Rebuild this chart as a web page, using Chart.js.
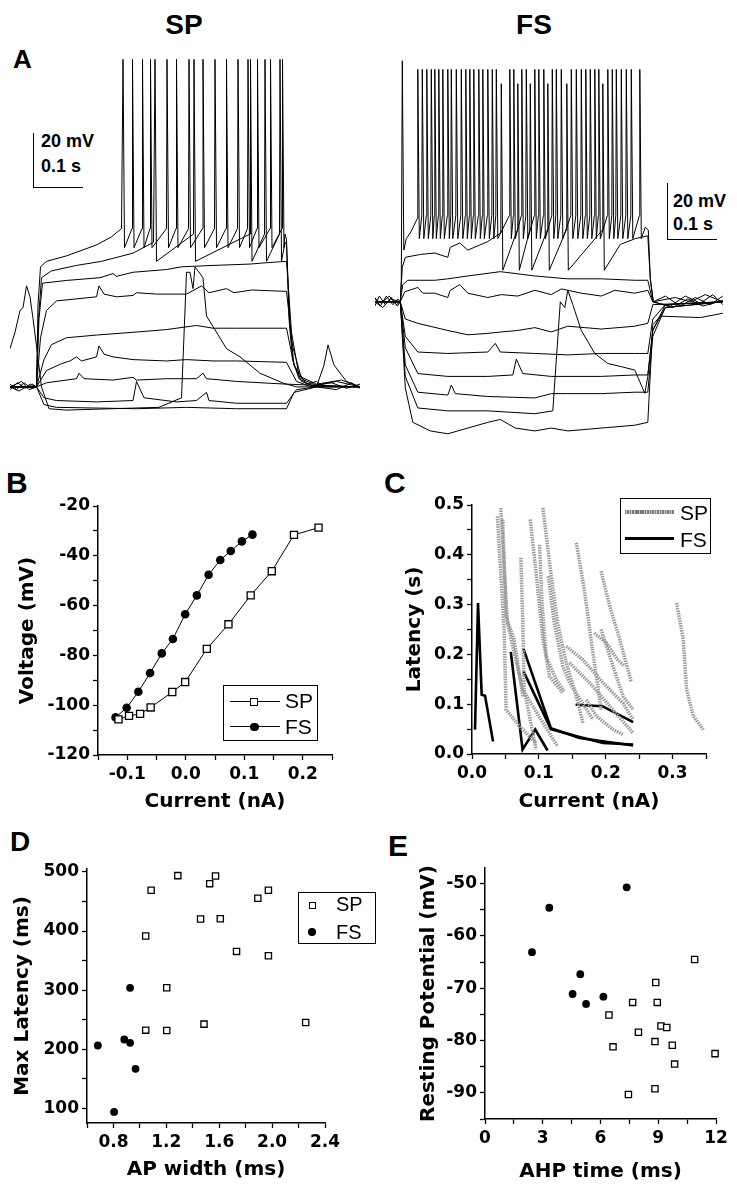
<!DOCTYPE html>
<html>
<head>
<meta charset="utf-8">
<script src="https://cdn.jsdelivr.net/npm/chart.js@4.4.1/dist/chart.umd.min.js"></script>
<style>
  body { margin: 0; background: #fff; }
  #page { position: relative; width: 737px; height: 1199px; overflow: hidden; font-family: 'Liberation Sans', Arial, sans-serif; color: #000; }
  canvas { position: absolute; }
  .t { position: absolute; line-height: 1; white-space: nowrap; }
  .b { font-weight: bold; }
  .bar { position: absolute; border-left: 1.5px solid #000; border-bottom: 1.5px solid #000; box-sizing: border-box; }
  .leg { position: absolute; border: 1.5px solid #000; box-sizing: border-box; }
  .ln { position: absolute; background: #000; }
  .sq { position: absolute; border: 1.3px solid #000; background: #fff; box-sizing: border-box; }
  .dot { position: absolute; border-radius: 50%; background: #000; }
  .gray { position: absolute; background: repeating-linear-gradient(90deg, #7a7a7a 0 1.5px, #c8c8c8 1.5px 2.5px); }
</style>
</head>
<body>
<div id="page">
  <div class="t b" style="left:134px;top:11px;width:100px;text-align:center;font-size:28px">SP</div>
  <div class="t b" style="left:484px;top:11px;width:100px;text-align:center;font-size:28px">FS</div>
  <div class="t b" style="left:13px;top:46px;font-size:26px">A</div>
  <div class="t b" style="left:6px;top:468px;font-size:30px">B</div>
  <div class="t b" style="left:384px;top:468px;font-size:30px">C</div>
  <div class="t b" style="left:10px;top:828px;font-size:28px">D</div>
  <div class="t b" style="left:388px;top:831px;font-size:30px">E</div>

  <!-- scale bars -->
  <div class="bar" style="left:33px;top:133px;width:50px;height:55px"></div>
  <div class="t b" style="left:41px;top:132px;font-size:18px">20 mV</div>
  <div class="t b" style="left:41px;top:157px;font-size:18px">0.1 s</div>
  <div class="bar" style="left:667px;top:183px;width:50px;height:57px"></div>
  <div class="t b" style="left:673px;top:192px;font-size:18px">20 mV</div>
  <div class="t b" style="left:673px;top:215px;font-size:18px">0.1 s</div>

  <canvas id="aSP" width="350" height="375" style="left:10px;top:40px"></canvas>
  <canvas id="aFS" width="348" height="390" style="left:375px;top:55px"></canvas>
  <canvas id="bChart" width="350" height="335" style="left:0;top:490px"></canvas>
  <canvas id="cChart" width="367" height="335" style="left:370px;top:490px"></canvas>
  <canvas id="dChart" width="370" height="349" style="left:0;top:850px"></canvas>
  <canvas id="eChart" width="367" height="349" style="left:370px;top:850px"></canvas>

  <!-- legend B -->
  <div class="leg" style="left:223px;top:685px;width:95px;height:56px"></div>
  <div class="ln" style="left:230px;top:701px;width:50px;height:1.2px"></div>
  <div class="sq" style="left:250px;top:698px;width:8px;height:8px"></div>
  <div class="t" style="left:285px;top:690px;font-size:21px">SP</div>
  <div class="ln" style="left:230px;top:726px;width:50px;height:1.2px"></div>
  <div class="dot" style="left:250px;top:722.5px;width:8.5px;height:8.5px"></div>
  <div class="t" style="left:285px;top:716px;font-size:21px">FS</div>

  <!-- legend C -->
  <div class="leg" style="left:620px;top:498px;width:91px;height:56px"></div>
  <div class="gray" style="left:625px;top:510px;width:49px;height:3.5px"></div>
  <div class="t" style="left:680px;top:502px;font-size:21px">SP</div>
  <div class="ln" style="left:625px;top:537px;width:49px;height:2.6px"></div>
  <div class="t" style="left:680px;top:529px;font-size:21px">FS</div>

  <!-- legend D -->
  <div class="leg" style="left:298px;top:892px;width:78px;height:52px"></div>
  <div class="sq" style="left:308.5px;top:902px;width:7px;height:7px"></div>
  <div class="t" style="left:336px;top:894px;font-size:20px">SP</div>
  <div class="dot" style="left:308px;top:928px;width:7.5px;height:7.5px"></div>
  <div class="t" style="left:336px;top:922px;font-size:20px">FS</div>
</div>

<script>
// ---------- Panel A: membrane potential traces (t in ms, V in mV) ----------
// SP cell, two spiking sweeps
const spSweep1Pre = [[-53,-79],[-40,-81],[-25,-78.5],[-10,-80.5],[0,-80],[3,-50],[8,-36],[20,-34],[60,-32],[120,-28],[150,-25],[170,-22]];
const spSweep1Spikes = [173,192,212,228,261,280,305,333,357,380,403,423,442,468,492];
const spSweep1Post = [[497,-24],[500,-26],[505,-55],[512,-70],[525,-77],[550,-79.5],[590,-78.5],[620,-80.5],[647,-79]];
const spSweep2Pre = [[-53,-81],[-38,-78.5],[-22,-80.5],[-8,-79],[0,-80],[4,-55],[10,-40],[30,-37.5],[80,-35.5],[130,-34],[193,-31],[234,-27]];
const spSweep2Spikes = [237,315,428,457,487];
const spSweep2Post = [[497,-27],[500,-28],[507,-58],[515,-72],[530,-78],[560,-80],[600,-81],[630,-78.5],[647,-80.5]];
// SP cell, subthreshold sweeps
const spSubthreshold = [
  [[-53,-80],[-30,-78],[-15,-81],[0,-80],[5,-55],[12,-42],[60,-41],[127,-40],[153,-38.5],[160,-39.5],[193,-38],[260,-37],[290,-36],[353,-35.5],[427,-35],[460,-34.5],[500,-34],[510,-60],[525,-76],[560,-79],[610,-77.5],[647,-80]],
  [[-53,-80],[-35,-81.5],[-12,-79],[0,-80],[8,-62],[20,-52],[40,-48.5],[67,-48],[120,-47],[125,-43],[135,-46],[160,-47],[193,-46.5],[200,-45.5],[240,-46],[300,-46],[330,-43],[345,-45.5],[380,-44],[395,-45.5],[430,-44.5],[500,-45],[512,-65],[530,-77],[560,-79.5],[600,-78],[647,-80]],
  [[-53,-80],[0,-80],[15,-70],[30,-64.5],[60,-62],[120,-61],[193,-60],[260,-59],[320,-57.5],[353,-58.5],[400,-58.5],[500,-58.5],[515,-72],[540,-79],[560,-78],[570,-79.5],[647,-80]],
  [[-53,-80],[0,-80],[20,-74],[50,-71.5],[67,-70.5],[80,-69],[90,-70.5],[120,-69],[125,-65],[135,-68],[153,-69],[193,-70],[260,-70.5],[300,-70],[353,-70.5],[400,-70.5],[500,-71],[520,-78],[547,-79.8],[647,-80]],
  [[-53,-80],[0,-80],[20,-78.5],[80,-77],[85,-75],[95,-77],[153,-77.5],[193,-76.5],[200,-77.5],[260,-77],[320,-77],[333,-75],[340,-77],[400,-78],[500,-79],[647,-80]],
  [[-53,-80],[0,-80],[15,-84],[40,-85],[120,-85.5],[193,-85],[200,-78],[215,-84],[280,-85.5],[320,-85],[340,-82],[345,-85],[400,-86],[500,-86],[520,-81],[560,-80],[647,-80]],
  [[-53,-80],[0,-80],[15,-86.5],[40,-87.5],[200,-88],[300,-87.5],[400,-88],[500,-88],[515,-82],[560,-80],[647,-80]],
  [[-53,-66],[-43,-60],[-33,-52],[-27,-51],[-20,-43],[-13,-47],[-7,-55],[0,-65],[10,-80],[25,-88],[60,-88.5],[150,-88],[245,-87.5],[290,-84],[300,-38],[307,-38],[313,-44],[317,-36],[333,-40],[340,-54],[380,-66],[407,-69],[447,-75],[493,-78.6],[520,-80],[560,-80],[575,-72],[583,-64.6],[595,-72],[620,-78],[647,-80]]
];
// FS cell, two spiking sweeps
const fsSweep1Pre = [[-51,-68.5],[-40,-71.5],[-28,-68],[-15,-71],[-5,-69],[0,-70],[2,-62],[4,14],[7,-52],[12,-48],[20,-46],[34,-41]];
const fsSweep1Spikes = [35,44,53,62,69,77,85,95,102,112,122,131,139,147,157,165,175,184,192,219,227,243,252,269,277,287,304,312,322,342,352,362,371,380,389,397,415,424,432,442,452,462,479];
const fsSweep1Post = [[490,-44],[496,-45],[500,-62],[506,-70],[530,-68],[560,-71.5],[590,-68.5],[620,-71],[645,-68]];
const fsSweep2Pre = [[-51,-71.5],[-42,-68],[-30,-71],[-18,-68.5],[-6,-71.5],[0,-70],[4,-58],[10,-54.5],[40,-53.5],[69,-53],[95,-54.5],[100,-51],[119,-49.5],[135,-52],[175,-49],[201,-46]];
const fsSweep2Spikes = [202,235,260,295,333,405];
const fsSweep2Post = [[440,-50],[470,-48],[495,-47],[500,-62],[506,-70],[540,-71.5],[570,-68],[600,-70.5],[625,-67.5],[645,-71]];
// FS cell, subthreshold sweeps
const fsSubthreshold = [
  [[-51,-70],[-35,-72],[-20,-69],[0,-70],[5,-64],[15,-62.5],[69,-62.5],[95,-62],[135,-61],[200,-59.5],[269,-61],[335,-62],[402,-62],[469,-62.5],[495,-62.5],[505,-70],[550,-68.5],[580,-70],[610,-67.5],[645,-70]],
  [[-51,-69],[-38,-70.5],[-22,-68],[-8,-71],[0,-70],[9,-66.5],[35,-65],[45,-67],[69,-67],[95,-68.5],[100,-66],[119,-64],[135,-67],[175,-68.5],[202,-67.5],[235,-68],[269,-66],[302,-67.5],[322,-65.5],[362,-67],[402,-68],[429,-66],[469,-67],[495,-66],[505,-70],[545,-72],[575,-69],[605,-71.5],[645,-69.5]],
  [[-51,-70],[0,-70],[10,-76],[35,-77.5],[95,-80],[135,-81.5],[175,-81],[202,-80.5],[235,-80],[269,-79],[302,-80.5],[335,-78.5],[369,-79],[402,-79.5],[469,-78.5],[495,-77.5],[505,-71],[645,-70]],
  [[-51,-70],[0,-70],[10,-82],[35,-87.5],[95,-88],[175,-87.5],[190,-84.5],[200,-87.5],[269,-88],[335,-88.5],[402,-88],[469,-88],[495,-88],[505,-76],[530,-71],[645,-70]],
  [[-51,-70],[0,-70],[10,-86],[35,-95],[95,-96],[175,-96],[225,-95.5],[232,-90],[245,-95],[302,-96],[402,-96],[469,-95.5],[495,-95.5],[505,-80],[530,-71],[645,-70]],
  [[-51,-70],[0,-70],[10,-92],[35,-101.5],[95,-102.5],[102,-99],[110,-102],[175,-103],[269,-103.5],[302,-102],[335,-102],[402,-102],[469,-101.5],[495,-101.5],[505,-82],[530,-72],[645,-70]],
  [[-51,-70],[0,-70],[10,-96],[35,-107],[95,-108],[175,-108],[269,-109],[305,-108],[320,-70],[329,-72],[335,-66],[345,-71],[362,-80],[389,-88],[415,-91.5],[442,-92.6],[469,-93.8],[489,-101.9],[495,-96],[505,-80],[530,-72],[645,-70]],
  [[-51,-70],[0,-70],[10,-100],[25,-112],[60,-115],[95,-116],[135,-114],[175,-112],[200,-111],[230,-114],[269,-115],[302,-114],[335,-115],[402,-114],[469,-113],[495,-112],[505,-78],[520,-75],[600,-75.5],[645,-74]]
];

// ---------- Panel B: I-V relation ----------
const bCurrentSP = [-0.115,-0.097,-0.078,-0.060,-0.023,-0.001,0.036,0.073,0.111,0.147,0.185,0.227];
const bVoltageSP = [-105.7,-104.3,-103.5,-100.9,-94.7,-90.7,-77.4,-67.5,-55.9,-46.2,-31.6,-28.7];
const bCurrentFS = [-0.120,-0.101,-0.081,-0.061,-0.041,-0.022,-0.001,0.019,0.039,0.059,0.077,0.096,0.114];
const bVoltageFS = [-104.9,-101.0,-94.6,-87.1,-79.2,-73.4,-63.5,-55.9,-47.6,-41.7,-38.1,-34.2,-31.5];

// ---------- Panel C: first-spike latency vs current, one line per cell ----------
const cLinesSP = [
  [[0.038,0.477],[0.048,0.250],[0.051,0.089],[0.071,0.056],[0.096,0.022]],
  [[0.043,0.494],[0.053,0.263],[0.061,0.216],[0.076,0.129],[0.091,0.096],[0.128,0.015]],
  [[0.046,0.471],[0.051,0.276],[0.063,0.230],[0.076,0.116]],
  [[0.073,0.394],[0.076,0.263],[0.078,0.129],[0.086,0.076],[0.096,0.009]],
  [[0.087,0.471],[0.096,0.363],[0.106,0.230],[0.116,0.156],[0.136,0.122]],
  [[0.101,0.420],[0.105,0.297],[0.111,0.196],[0.126,0.149],[0.138,0.126]],
  [[0.106,0.494],[0.118,0.363],[0.128,0.263],[0.141,0.183],[0.156,0.116],[0.166,0.062]],
  [[0.114,0.357],[0.123,0.263],[0.136,0.176],[0.146,0.143],[0.181,0.069]],
  [[0.156,0.424],[0.168,0.330],[0.178,0.230],[0.186,0.156],[0.193,0.089]],
  [[0.193,0.367],[0.206,0.297],[0.221,0.230],[0.238,0.146]],
  [[0.183,0.243],[0.201,0.223],[0.218,0.189],[0.228,0.176]],
  [[0.141,0.216],[0.166,0.189],[0.196,0.143],[0.226,0.102],[0.241,0.069]],
  [[0.146,0.183],[0.176,0.143],[0.206,0.096],[0.241,0.042]],
  [[0.193,0.250],[0.211,0.176],[0.226,0.116],[0.241,0.089]],
  [[0.306,0.303],[0.316,0.230],[0.321,0.129],[0.331,0.076],[0.346,0.049]],
  [[0.171,0.109],[0.186,0.076],[0.211,0.049],[0.226,0.039]]
];
const cLinesFS = [
  [[0.0045,0.049],[0.009,0.303],[0.0145,0.119],[0.0195,0.117],[0.0315,0.025]],
  [[0.058,0.205],[0.0756,0.009],[0.0946,0.049],[0.113,0.007]],
  [[0.077,0.211],[0.118,0.052],[0.161,0.032],[0.241,0.017]],
  [[0.077,0.166],[0.118,0.050],[0.161,0.034],[0.196,0.022],[0.241,0.019]],
  [[0.155,0.099],[0.195,0.096],[0.241,0.064]]
];

// ---------- Panel D: max latency vs AP width ----------
const dWidthSP = [1.044,1.085,1.287,1.203,1.044,1.203,1.459,1.528,1.572,1.608,1.485,1.731,1.892,1.972,1.972,2.254];
const dLatencySP = [391.5,468.9,493.8,303.9,232.2,231.6,420.3,480.2,493.2,420.9,242.4,365.5,455.4,468.9,358.2,245.2];
const dWidthFS = [0.682,0.805,0.882,0.926,0.926,0.967];
const dLatencyFS = [206.2,93.8,216.4,210.7,303.9,166.7];

// ---------- Panel E: resting potential vs AHP time ----------
const eAhpSP = [10.89,8.87,7.67,8.95,6.44,9.14,9.44,7.97,8.83,6.65,9.73,9.85,11.95,8.83,7.45];
const eRestSP = [-64.5,-68.9,-72.7,-72.7,-75.1,-77.2,-77.5,-78.4,-80.2,-81.2,-80.9,-84.5,-82.5,-89.2,-90.3];
const eAhpFS = [2.44,3.34,7.36,4.95,4.55,5.25,6.15];
const eRestFS = [-63.1,-54.6,-50.7,-67.3,-71.1,-73.0,-71.6];

// ---------- helpers ----------
const AXIS_FONT = "'DejaVu Sans', Verdana, sans-serif";
Chart.defaults.font.family = "'Liberation Sans', Arial, sans-serif";
Chart.defaults.color = '#000';
Chart.defaults.animation = false;
Chart.defaults.plugins.legend.display = false;
Chart.defaults.plugins.tooltip.enabled = false;

const onStep = (v, s) => Math.abs(v / s - Math.round(v / s)) < 1e-6;
const toXY = pts => pts.map(p => ({x: p[0], y: p[1]}));
const zip = (xs, ys) => xs.map((x, i) => ({x: x, y: ys[i]}));

// a spiking sweep: the pre-spike part, then each spike (peak, fast trough, ramp to threshold), then the tail
function spikeTrain(pre, times, peak, trough, thr, post) {
  const pts = pre.slice();
  times.forEach((ts, i) => {
    pts.push([ts, peak], [ts + 3, trough]);
    if (i < times.length - 1) pts.push([times[i + 1] - 1, thr]);
  });
  return toXY(pts.concat(post));
}

function traceChart(id, sweeps, xr, yr) {
  new Chart(document.getElementById(id), {
    type: 'scatter',
    data: {
      datasets: sweeps.map(d => ({data: d, showLine: true, pointRadius: 0, borderColor: '#000', borderWidth: 1, clip: false}))
    },
    options: {
      responsive: false, devicePixelRatio: 1,
      layout: {padding: 0},
      scales: {
        x: {type: 'linear', display: false, min: xr[0], max: xr[1]},
        y: {type: 'linear', display: false, min: yr[0], max: yr[1]}
      }
    }
  });
}

function axis(o) {
  return {
    type: 'linear', min: o.min, max: o.max,
    afterFit: s => { if (s.isHorizontal()) s.height = o.size; else s.width = o.size; },
    // keep only the ticks that fall on the grid step and inside the axis range
    afterBuildTicks: s => {
      s.ticks = s.ticks.filter(t => t.value >= o.min - 1e-9 && t.value <= o.max + 1e-9 && onStep(t.value - o.from, o.step));
    },
    border: {display: true, color: '#000', width: 1.5},
    grid: {drawOnChartArea: false, drawTicks: true, tickLength: 5, tickColor: '#000', tickWidth: 1.3},
    ticks: {
      stepSize: o.step, includeBounds: false, autoSkip: false, maxRotation: 0, padding: o.pad,
      font: {family: AXIS_FONT, size: 17, weight: 'bold'},
      callback: v => (v >= o.from - 1e-9 && onStep(v - o.from, o.major)) ? (Math.round(v * 1e6) / 1e6).toFixed(o.dec) : ''
    },
    title: {display: true, text: o.title, font: {family: AXIS_FONT, size: 20, weight: 'bold'}, padding: o.tpad}
  };
}

function plotChart(id, datasets, pad, xo, yo) {
  new Chart(document.getElementById(id), {
    type: 'scatter',
    data: {datasets: datasets},
    options: {
      responsive: false, devicePixelRatio: 1,
      layout: {padding: pad},
      scales: {x: axis(xo), y: axis(yo)}
    }
  });
}

const openSquare = (data, r) => ({data: data, pointStyle: 'rect', pointRadius: r, pointBackgroundColor: '#fff', pointBorderColor: '#000', pointBorderWidth: 1.3, clip: false});
const filledDot = (data, r) => ({data: data, pointStyle: 'circle', pointRadius: r, pointBackgroundColor: '#000', pointBorderColor: '#000', pointBorderWidth: 0, clip: false});

// ---------- Panel A ----------
traceChart('aSP', [
  spikeTrain(spSweep1Pre, spSweep1Spikes, 40, -29, -22, spSweep1Post),
  spikeTrain(spSweep2Pre, spSweep2Spikes, 40, -34, -24, spSweep2Post)
].concat(spSubthreshold.map(toXY)), [-53, 647], [-90.3, 47.1]);

traceChart('aFS', [
  spikeTrain(fsSweep1Pre, fsSweep1Spikes, 11, -48, -40, fsSweep1Post),
  spikeTrain(fsSweep2Pre, fsSweep2Spikes, 6, -59, -45, fsSweep2Post)
].concat(fsSubthreshold.map(toXY)), [-50.6, 645.4], [-119.9, 16.0]);

// ---------- Panel B ----------
plotChart('bChart', [
  Object.assign(openSquare(zip(bCurrentSP, bVoltageSP), 5), {showLine: true, borderColor: '#000', borderWidth: 1}),
  Object.assign(filledDot(zip(bCurrentFS, bVoltageFS), 4.3), {showLine: true, borderColor: '#000', borderWidth: 1})
], {top: 16, right: 18, left: 0, bottom: 0},
  {min: -0.15, max: 0.25, step: 0.05, from: -0.1, major: 0.1, dec: 1, size: 70, pad: 4, title: 'Current (nA)', tpad: {top: 0, bottom: 11}},
  {min: -120, max: -20, step: 10, from: -120, major: 20, dec: 0, size: 98, pad: 3, title: 'Voltage (mV)', tpad: {top: 16, bottom: 0}});

// ---------- Panel C ----------
plotChart('cChart',
  cLinesSP.map(l => ({data: toXY(l), showLine: true, pointRadius: 0, borderColor: '#9a9a9a', borderWidth: 3.5, borderDash: [1.5, 1]}))
    .concat(cLinesFS.map(l => ({data: toXY(l), showLine: true, pointRadius: 0, borderColor: '#000', borderWidth: 2.6}))),
  {top: 15, right: 31, left: 0, bottom: 0},
  {min: 0, max: 0.35, step: 0.05, from: 0, major: 0.1, dec: 1, size: 71, pad: 4, title: 'Current (nA)', tpad: {top: 0, bottom: 11}},
  {min: 0, max: 0.5, step: 0.05, from: 0, major: 0.1, dec: 1, size: 102, pad: 3, title: 'Latency (s)', tpad: {top: 33, bottom: 0}});

// ---------- Panel D ----------
plotChart('dChart', [
  openSquare(zip(dWidthSP, dLatencySP), 4.4),
  filledDot(zip(dWidthFS, dLatencyFS), 3.9)
], {top: 19, right: 45, left: 0, bottom: 0},
  {min: 0.6, max: 2.4, step: 0.2, from: 0.8, major: 0.4, dec: 1, size: 76, pad: 4, title: 'AP width (ms)', tpad: {top: 0, bottom: 17}},
  {min: 75, max: 505, step: 50, from: 100, major: 100, dec: 0, size: 87, pad: 3, title: 'Max Latency (ms)', tpad: {top: 11, bottom: 0}});

// ---------- Panel E ----------
plotChart('eChart', [
  openSquare(zip(eAhpSP, eRestSP), 4.4),
  filledDot(zip(eAhpFS, eRestFS), 3.9)
], {top: 18, right: 21, left: 0, bottom: 0},
  {min: 0, max: 12, step: 1.5, from: 0, major: 3, dec: 0, size: 80, pad: 4, title: 'AHP time (ms)', tpad: {top: 0, bottom: 15}},
  {min: -95, max: -47, step: 5, from: -90, major: 10, dec: 0, size: 115, pad: 3, title: 'Resting Potential (mV)', tpad: {top: 47, bottom: 0}});
</script>
</body>
</html>
